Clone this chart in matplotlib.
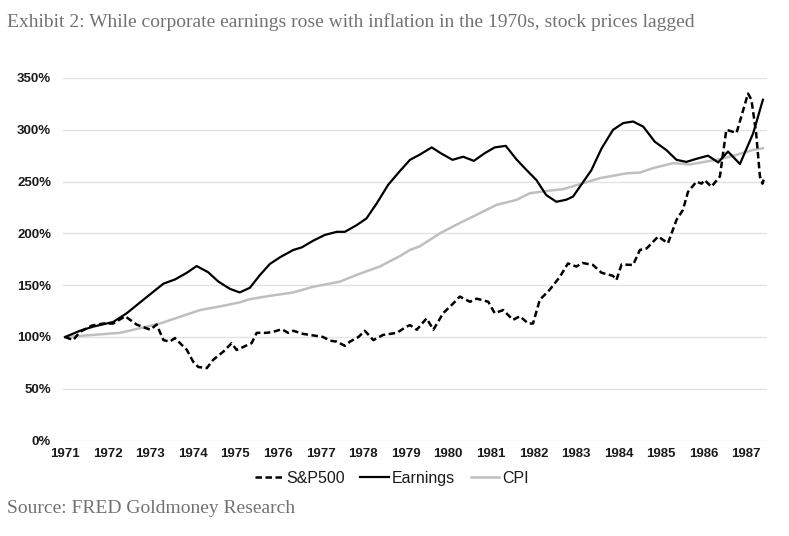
import matplotlib
matplotlib.use("Agg")
import matplotlib.pyplot as plt
from matplotlib.ticker import FuncFormatter

# ---- data ----
sp_years = [1971.00, 1971.19, 1971.35, 1971.63, 1971.90, 1972.13, 1972.41, 1972.68,
            1973.00, 1973.15, 1973.31, 1973.46, 1973.58, 1973.86, 1974.01, 1974.13,
            1974.33, 1974.48, 1974.72, 1974.91, 1975.03, 1975.27, 1975.38, 1975.50,
            1975.73, 1975.89, 1976.09, 1976.24, 1976.36, 1976.59, 1976.91, 1977.06,
            1977.22, 1977.38, 1977.57, 1977.69, 1977.89, 1978.04, 1978.24, 1978.47,
            1978.79, 1979.02, 1979.10, 1979.26, 1979.49, 1979.65, 1979.88, 1980.12,
            1980.27, 1980.51, 1980.67, 1980.94, 1981.09, 1981.29, 1981.52, 1981.68,
            1981.88, 1981.99, 1982.15, 1982.38, 1982.62, 1982.81, 1983.01, 1983.15,
            1983.40, 1983.60, 1983.87, 1983.95, 1984.07, 1984.34, 1984.50, 1984.66,
            1984.93, 1985.16, 1985.36, 1985.51, 1985.63, 1985.83, 1985.95, 1986.02,
            1986.18, 1986.38, 1986.53, 1986.77, 1987.04, 1987.12, 1987.23, 1987.32,
            1987.38, 1987.43]
sp_values = [100, 97, 105, 111, 113, 113, 120, 112,
             107, 112, 97, 95.5, 99, 87.5, 76, 71,
             70, 78, 86, 94, 87.5, 92, 94, 104,
             104, 105, 107.5, 104, 106, 103, 101, 100,
             96.5, 95.5, 91.5, 95.5, 100, 106, 97, 102,
             104, 110, 111.5, 107, 118, 107, 123, 132.5,
             139, 134, 137, 134, 123, 126, 116.5, 120,
             113, 113, 136, 145.5, 158, 171, 168, 171.5,
             169.5, 162, 159, 155, 170, 169.5, 184, 185.5,
             197, 190.5, 213, 222.5, 240, 250, 248, 251.5,
             245, 255, 300, 297, 335, 329, 297, 255,
             248, 255]

earn_years = [1971.00, 1971.35, 1971.66, 1972.13, 1972.45, 1972.84, 1973.31, 1973.58,
              1973.86, 1974.09, 1974.36, 1974.60, 1974.87, 1975.10, 1975.34, 1975.58,
              1975.81, 1976.05, 1976.36, 1976.56, 1976.83, 1977.10, 1977.38, 1977.57,
              1977.85, 1978.08, 1978.32, 1978.59, 1978.86, 1979.10, 1979.33, 1979.61,
              1979.84, 1980.10, 1980.35, 1980.60, 1980.86, 1981.09, 1981.35, 1981.60,
              1981.83, 1982.07, 1982.30, 1982.54, 1982.77, 1982.93, 1983.09, 1983.36,
              1983.60, 1983.87, 1984.11, 1984.34, 1984.58, 1984.85, 1985.12, 1985.36,
              1985.59, 1985.83, 1986.10, 1986.34, 1986.57, 1986.85, 1987.16, 1987.39]
earn_values = [100, 106, 110, 114.5, 123, 136, 151.5, 155.5,
               162, 168.5, 162.5, 153.5, 146.5, 143, 147.5, 160,
               170.5, 177, 184, 186.5, 193, 198.5, 201.5, 201.5,
               208, 214.5, 229, 247, 260, 271, 276, 283,
               277, 271, 274, 270, 277.5, 283, 284.5, 271.5,
               261.5, 251.5, 237, 230.5, 232.5, 235.5, 245, 261,
               282, 300, 306.5, 308, 303, 288.5, 280.5, 271,
               269, 272, 275, 268.5, 279, 267, 296.5, 329]

cpi_years = [1971.00, 1971.66, 1972.29, 1972.76, 1973.23, 1973.70, 1974.17, 1974.64,
             1975.11, 1975.34, 1975.81, 1976.36, 1976.83, 1977.46, 1977.85, 1978.39,
             1978.86, 1979.10, 1979.33, 1979.80, 1980.27, 1980.74, 1981.13, 1981.60,
             1981.92, 1982.38, 1982.70, 1983.09, 1983.56, 1984.19, 1984.50, 1984.81,
             1985.28, 1985.67, 1986.06, 1986.38, 1986.77, 1987.16, 1987.39]
cpi_values = [100, 102, 104, 108.5, 113, 119.5, 126, 129.5,
              133.5, 136.5, 139.7, 143, 148.5, 153.5, 160, 168,
              178, 184, 187.5, 200, 210, 219.5, 227.5, 232.3,
              238.8, 241.3, 242.7, 247.5, 253.3, 258, 258.7, 263,
              267.8, 266.5, 269.3, 271.6, 275.8, 280.6, 282.2]

year_ticks = list(range(1971, 1988))
pct_ticks = [0, 50, 100, 150, 200, 250, 300, 350]

title_text = "Exhibit 2: While corporate earnings rose with inflation in the 1970s, stock prices lagged"
source_text = "Source: FRED Goldmoney Research"

# ---- figure ----
fig = plt.figure(figsize=(7.89, 5.36), dpi=100)
fig.patch.set_facecolor("white")
ax = fig.add_axes([0.0798, 0.178, 0.892, 0.6765])

ax.plot(sp_years, sp_values, color="black", lw=1.8, linestyle=(0, (2.6, 1.4)), label="S&P500", zorder=3)
ax.plot(earn_years, earn_values, color="black", lw=1.6, label="Earnings", zorder=4)
ax.plot(cpi_years, cpi_values, color="#bfbfbf", lw=1.8, label="CPI", zorder=2)

ax.set_xlim(1970.95, 1987.48)
ax.set_ylim(0, 350)
ax.set_xticks(year_ticks)
ax.set_yticks(pct_ticks)
ax.yaxis.set_major_formatter(FuncFormatter(lambda v, p: f"{int(v)}%"))
ax.grid(axis="y", color="#e3e3e3", lw=1.0)
ax.set_axisbelow(True)
for s in ax.spines.values():
    s.set_visible(False)
ax.tick_params(axis="both", length=0, labelsize=9.5, colors="#1a1a1a")
ax.tick_params(axis="y", pad=8.5)
ax.tick_params(axis="x", pad=5)
for lab in ax.get_xticklabels() + ax.get_yticklabels():
    lab.set_fontweight("bold")
    lab.set_fontfamily("Liberation Sans")

leg = ax.legend(loc="upper center", bbox_to_anchor=(0.467, -0.044), ncol=3, frameon=False,
                prop={"family": "Liberation Sans", "size": 11.5}, handlelength=1.8,
                handletextpad=0.15, columnspacing=1.0)
for t in leg.get_texts():
    t.set_color("#1a1a1a")

fig.text(0.009, 0.958, title_text, family="Liberation Serif", fontsize=14,
         color="#727272", ha="left", va="center")
fig.text(0.009, 0.052, source_text, family="Liberation Serif", fontsize=14,
         color="#727272", ha="left", va="center")

fig.savefig("out.png", dpi=100, facecolor="white")
